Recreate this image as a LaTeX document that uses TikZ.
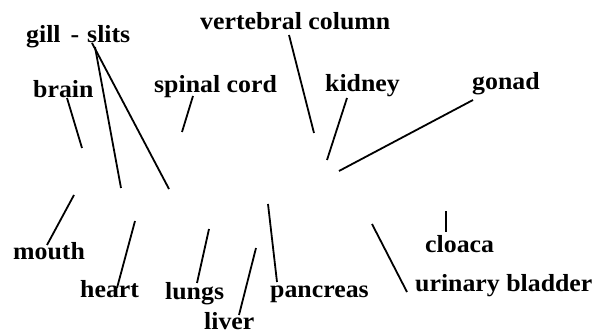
\documentclass[tikz,border=0pt]{standalone}
\usepackage{fontspec}
\setmainfont{Liberation Serif}[FakeStretch=1.05]
\usepackage{tikz}
\usetikzlibrary{positioning,calc}

\begin{document}
\begin{tikzpicture}[
    x=1pt, y=-1pt,
    label/.style={anchor=base west, inner sep=0pt, font=\bfseries\fontsize{24.6}{28}\selectfont},
    lead/.style={draw, line width=1.8pt}
  ]
    \useasboundingbox (0,0) rectangle (595,334);

    \node[label] (gill) at (26,43) {gill\hspace{10pt}-\hspace{8pt}slits};
    \node[label] (vertebral) at (200,30) {vertebral column};
    \node[label] (brain) at (33,98) {brain};
    \node[label] (spinal) at (154,93) {spinal cord};
    \node[label] (kidney) at (325,92) {kidney};
    \node[label] (gonad) at (472,90) {gonad};
    \node[label] (mouth) at (13,259) {mouth};
    \node[label] (cloaca) at (425,252) {cloaca};
    \node[label] (heart) at (80,298) {heart};
    \node[label] (lungs) at (165,299) {lungs};
    \node[label] (pancreas) at (270,297) {pancreas};
    \node[label] (urinary) at (415,291) {urinary bladder};
    \node[label] (liver) at (204,329) {liver};

    \coordinate (gill-a) at (121,188);
    \coordinate (gill-b) at (169,189);
    \coordinate (brain-end) at (82,148);
    \coordinate (spinal-end) at (182,132);
    \coordinate (vertebral-end) at (314,133);
    \coordinate (kidney-end) at (327,160);
    \coordinate (gonad-end) at (339,171);
    \coordinate (mouth-end) at (74,195);
    \coordinate (heart-end) at (135,221);
    \coordinate (lungs-end) at (209,229);
    \coordinate (liver-end) at (256,248);
    \coordinate (pancreas-end) at (268,204);
    \coordinate (cloaca-end) at (446,211);
    \coordinate (urinary-end) at (372,224);

    \draw[lead] ($(gill.base west)+(69,4)$) -- (gill-a);
    \draw[lead] ($(gill.base west)+(66,0)$) -- (gill-b);
    \draw[lead] ($(brain.base west)+(34,0)$) -- (brain-end);
    \draw[lead] ($(spinal.base west)+(39,3)$) -- (spinal-end);
    \draw[lead] ($(vertebral.base west)+(89,5)$) -- (vertebral-end);
    \draw[lead] ($(kidney.base west)+(22,6)$) -- (kidney-end);
    \draw[lead] ($(gonad.base west)+(1,10)$) -- (gonad-end);
    \draw[lead] ($(mouth.base west)+(34,-14)$) -- (mouth-end);
    \draw[lead] ($(heart.base west)+(37,-10)$) -- (heart-end);
    \draw[lead] ($(lungs.base west)+(32,-16)$) -- (lungs-end);
    \draw[lead] ($(liver.base west)+(35,-14)$) -- (liver-end);
    \draw[lead] ($(pancreas.base west)+(7,-15)$) -- (pancreas-end);
    \draw[lead] ($(cloaca.base west)+(21,-20)$) -- (cloaca-end);
    \draw[lead] ($(urinary.base west)+(-8,1)$) -- (urinary-end);
  \end{tikzpicture}
\end{document}
